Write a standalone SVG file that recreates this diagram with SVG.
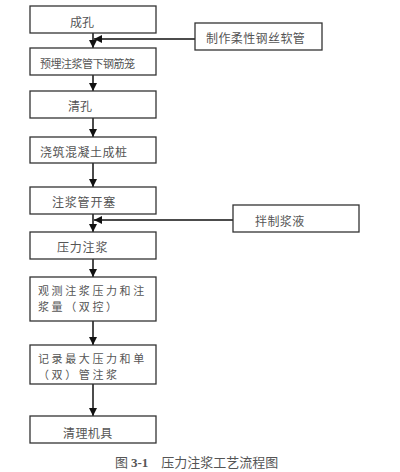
<svg xmlns="http://www.w3.org/2000/svg" width="400" height="472" viewBox="0 0 400 472">
<defs>
<marker id="ah" viewBox="0 0 8 8" refX="8" refY="4" markerWidth="8" markerHeight="8" markerUnits="userSpaceOnUse" orient="auto">
<path d="M0,0 L8,4 L0,8 Z" fill="#111"/>
</marker>
<style>
rect{fill:#fff;stroke:#333;stroke-width:1.3}
text{font-family:"Noto Sans CJK SC","Liberation Serif",sans-serif;font-size:12px;fill:#555}
.two{font-size:11px;letter-spacing:2.6px}
.c line{stroke:#111;stroke-width:1.5;marker-end:url(#ah)}
</style>
</defs>
<rect x="0" y="0" width="400" height="472" style="stroke:none"/>
<g class="c">
<line x1="93" y1="33" x2="93" y2="48"/>
<line x1="195" y1="39" x2="94" y2="39"/>
<line x1="93" y1="75" x2="93" y2="91"/>
<line x1="93" y1="118" x2="93" y2="137"/>
<line x1="93" y1="163" x2="93" y2="187"/>
<line x1="93" y1="214" x2="93" y2="232"/>
<line x1="233" y1="220" x2="94" y2="220"/>
<line x1="93" y1="259" x2="93" y2="277"/>
<line x1="93" y1="321" x2="93" y2="345"/>
<line x1="93" y1="384" x2="93" y2="416"/>
</g>
<g id="n1"><rect x="30" y="6" width="126" height="27"/><text x="70" y="27">成孔</text></g>
<g id="s1"><rect x="195" y="23" width="127" height="27"/><text x="206" y="43" letter-spacing="0.4">制作柔性钢丝软管</text></g>
<g id="n2"><rect x="30" y="48" width="126" height="27"/><text x="40" y="68" style="font-size:11px" letter-spacing="-0.5">预埋注浆管下钢筋笼</text></g>
<g id="n3"><rect x="30" y="91" width="126" height="27"/><text x="68" y="111">清孔</text></g>
<g id="n4"><rect x="30" y="137" width="126" height="26"/><text x="40" y="157" letter-spacing="0.5">浇筑混凝土成桩</text></g>
<g id="n5"><rect x="30" y="187" width="126" height="27"/><text x="52" y="207" letter-spacing="0.8">注浆管开塞</text></g>
<g id="s2"><rect x="233" y="205" width="126" height="27"/><text x="255" y="226" letter-spacing="0.4">拌制浆液</text></g>
<g id="n6"><rect x="30" y="232" width="126" height="27"/><text x="57" y="252" letter-spacing="0.8">压力注浆</text></g>
<g id="n7"><rect x="30" y="277" width="126" height="44"/><text class="two" x="38" y="295">观测注浆压力和注</text><text class="two" x="38" y="311">浆量（双控）</text></g>
<g id="n8"><rect x="30" y="345" width="126" height="39"/><text class="two" x="38" y="363">记录最大压力和单</text><text class="two" x="38" y="379">（双）管注浆</text></g>
<g id="n9"><rect x="30" y="416" width="126" height="27"/><text x="63" y="438" letter-spacing="0.4">清理机具</text></g>
<text x="115" y="467" style="font-size:13px">图 <tspan font-family="Liberation Serif" font-weight="bold">3-1</tspan>　压力注浆工艺流程图</text>
</svg>
